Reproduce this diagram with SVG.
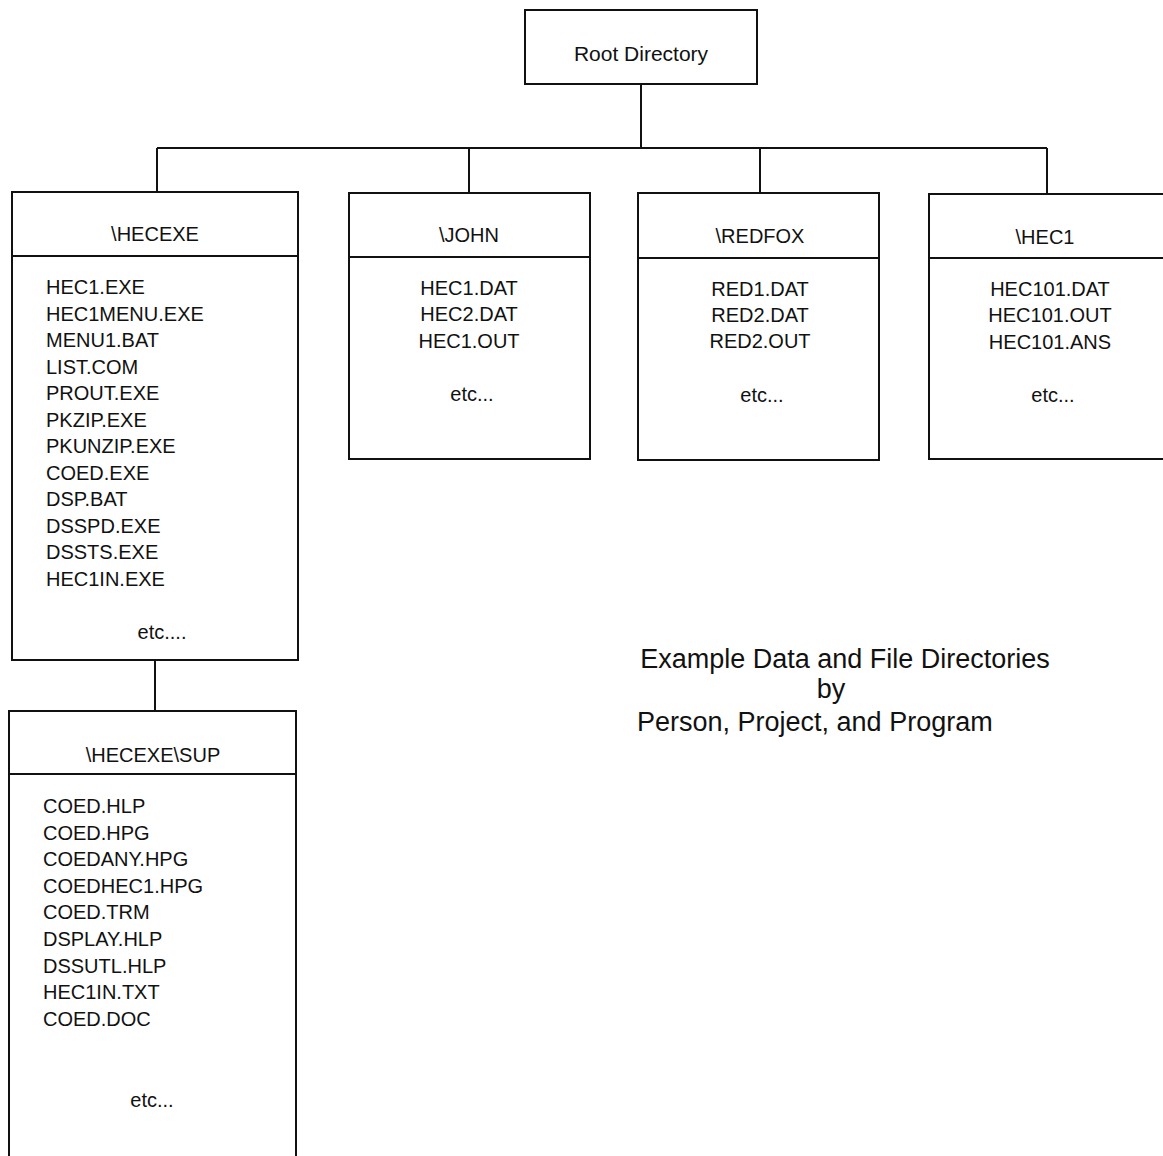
<svg xmlns="http://www.w3.org/2000/svg" width="1163" height="1156" viewBox="0 0 1163 1156">
<style>
.b{fill:#fff;stroke:#111;stroke-width:2}
.l{fill:none;stroke:#111;stroke-width:2}
text{font-family:"Liberation Sans",Arial,sans-serif;font-size:20px;fill:#111}
.c{text-anchor:middle}
.cap{font-size:27px}
</style>
<rect width="1163" height="1156" fill="#fff"/>
<g id="connectors">
<path class="l" d="M641 84V148M157 148H1047M157 148V192M469 148V193M760 148V193M1047 148V193M155 660V711"/>
</g>
<g id="root">
<rect class="b" x="525" y="10" width="232" height="74"/>
<text class="c" x="641" y="61" style="font-size:21px">Root Directory</text>
</g>
<g id="hecexe">
<rect class="b" x="12" y="192" width="286" height="468"/>
<path class="l" d="M12 256H298"/>
<text class="c" x="155" y="241">\HECEXE</text>
<text x="46" y="294">HEC1.EXE</text>
<text x="46" y="320.5">HEC1MENU.EXE</text>
<text x="46" y="347">MENU1.BAT</text>
<text x="46" y="373.5">LIST.COM</text>
<text x="46" y="400">PROUT.EXE</text>
<text x="46" y="426.5">PKZIP.EXE</text>
<text x="46" y="453">PKUNZIP.EXE</text>
<text x="46" y="479.5">COED.EXE</text>
<text x="46" y="506">DSP.BAT</text>
<text x="46" y="532.5">DSSPD.EXE</text>
<text x="46" y="559">DSSTS.EXE</text>
<text x="46" y="585.5">HEC1IN.EXE</text>
<text class="c" x="162" y="639">etc....</text>
</g>
<g id="john">
<rect class="b" x="349" y="193" width="241" height="266"/>
<path class="l" d="M349 257H590"/>
<text class="c" x="469" y="242">\JOHN</text>
<text class="c" x="469" y="295">HEC1.DAT</text>
<text class="c" x="469" y="321">HEC2.DAT</text>
<text class="c" x="469" y="348">HEC1.OUT</text>
<text class="c" x="472" y="401">etc...</text>
</g>
<g id="redfox">
<rect class="b" x="638" y="193" width="241" height="267"/>
<path class="l" d="M638 258H879"/>
<text class="c" x="760" y="243">\REDFOX</text>
<text class="c" x="760" y="296">RED1.DAT</text>
<text class="c" x="760" y="322">RED2.DAT</text>
<text class="c" x="760" y="348">RED2.OUT</text>
<text class="c" x="762" y="402">etc...</text>
</g>
<g id="hec1">
<rect class="b" x="929" y="194" width="260" height="265"/>
<path class="l" d="M929 258H1163"/>
<text class="c" x="1045" y="244">\HEC1</text>
<text class="c" x="1050" y="296">HEC101.DAT</text>
<text class="c" x="1050" y="322">HEC101.OUT</text>
<text class="c" x="1050" y="349">HEC101.ANS</text>
<text class="c" x="1053" y="402">etc...</text>
</g>
<g id="hecexe-sup">
<path class="b" d="M9 1170V711H296V1170"/>
<path class="l" d="M9 774H296"/>
<text class="c" x="153" y="762">\HECEXE\SUP</text>
<text x="43" y="813">COED.HLP</text>
<text x="43" y="839.6">COED.HPG</text>
<text x="43" y="866.2">COEDANY.HPG</text>
<text x="43" y="892.8">COEDHEC1.HPG</text>
<text x="43" y="919.4">COED.TRM</text>
<text x="43" y="946">DSPLAY.HLP</text>
<text x="43" y="972.6">DSSUTL.HLP</text>
<text x="43" y="999.2">HEC1IN.TXT</text>
<text x="43" y="1025.8">COED.DOC</text>
<text class="c" x="152" y="1107">etc...</text>
</g>
<g id="caption">
<text class="c cap" x="845" y="668">Example Data and File Directories</text>
<text class="c cap" x="831" y="698">by</text>
<text class="cap" x="637" y="731">Person, Project, and Program</text>
</g>
</svg>
